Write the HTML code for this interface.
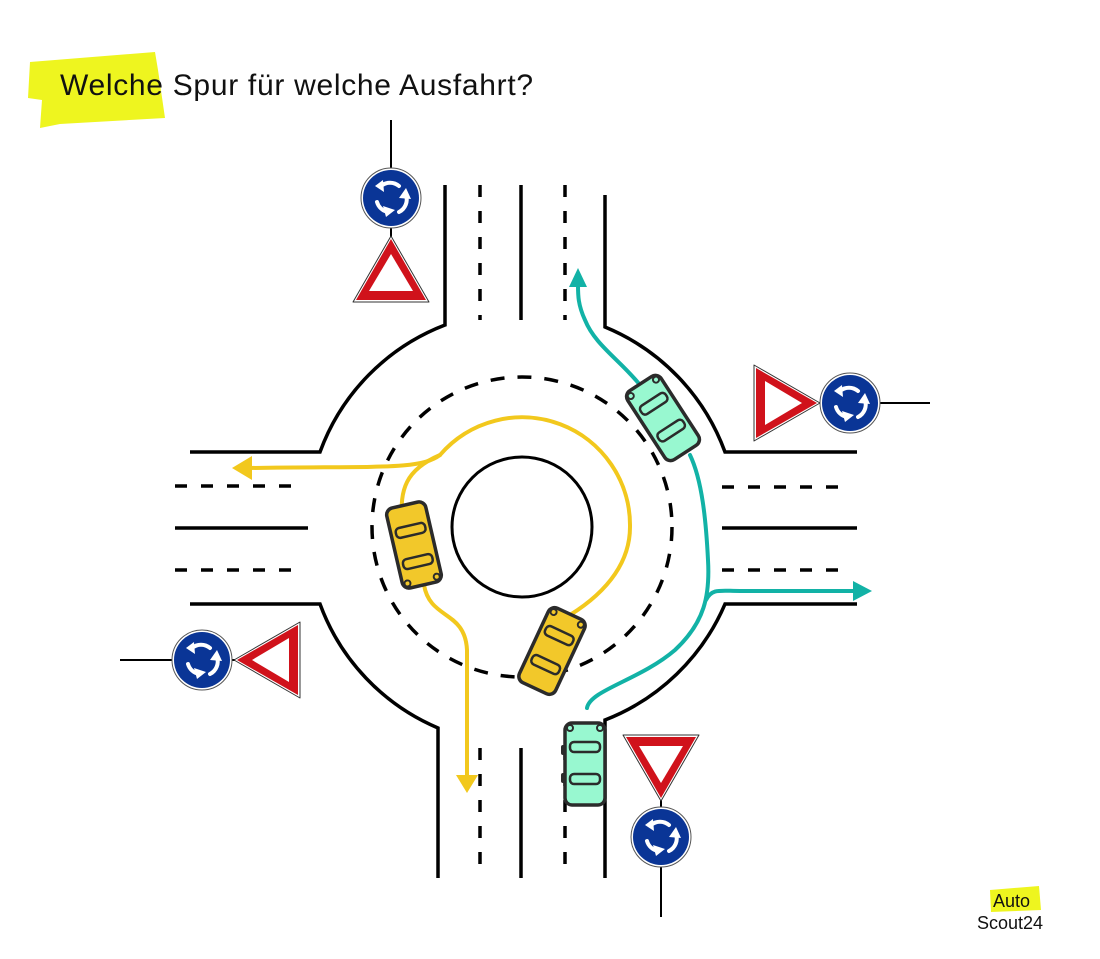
<!DOCTYPE html>
<html><head><meta charset="utf-8"><style>
html,body{margin:0;padding:0;background:#fff;width:1100px;height:959px;overflow:hidden}
svg{display:block}
text{font-family:"Liberation Sans",sans-serif}
</style></head><body>
<svg width="1100" height="959" viewBox="0 0 1100 959" xmlns="http://www.w3.org/2000/svg">
<defs>
<g id="rb">
 <circle r="30" fill="#fff" stroke="#555" stroke-width="1"/>
 <circle r="28" fill="#0a3596"/>
 <g fill="none" stroke="#fff" stroke-width="4" stroke-linecap="round">
  <path d="M8,-12 A14,14 0 0 0 -10,-12"/>
  <path d="M-14,4 A14,14 0 0 0 -3,14"/>
  <path d="M8,14 A14,14 0 0 0 15,-3"/>
 </g>
 <g fill="#fff">
  <path d="M-16,-12 L-8,-18 L-7,-6 Z"/>
  <path d="M-5,19 L4,12 L-8,8 Z"/>
  <path d="M15,-10 L20,1 L8,0 Z"/>
 </g>
</g>
<g id="tri">
 <path d="M0,-36 L38,30 L-38,30 Z" fill="#fff" stroke="#333" stroke-width="1" stroke-linejoin="round"/>
 <path d="M0,-33 L35,28 L-35,28 Z" fill="#d0121b"/>
 <path d="M0,-18 L22,19 L-22,19 Z" fill="#fff"/>
</g>
<g id="car">
 <rect x="-20" y="-41" width="40" height="82" rx="7" stroke="#2b2b2b" stroke-width="3.5"/>
 <rect x="-15" y="-22" width="30" height="10" rx="4" fill="none" stroke="#2b2b2b" stroke-width="2.5"/>
 <rect x="-15" y="10" width="30" height="10" rx="4" fill="none" stroke="#2b2b2b" stroke-width="2.5"/>
 <circle cx="-15" cy="-36" r="3" fill="none" stroke="#2b2b2b" stroke-width="2"/>
 <circle cx="15" cy="-36" r="3" fill="none" stroke="#2b2b2b" stroke-width="2"/>
</g>
</defs>

<!-- title -->
<path d="M30,62 L155,52 L158,70 L165,118 L60,124 L40,128 L42,100 L28,98 Z" fill="#eef51f"/>
<text x="60" y="95" font-size="30" letter-spacing="0.7" fill="#111">Welche Spur für welche Ausfahrt?</text>

<!-- roads -->
<g fill="none" stroke="#000" stroke-width="3.5">
 <path d="M445,185 V325 A215,215 0 0 0 320,452 H190"/>
 <path d="M605,195 V327 A215,215 0 0 1 725,452 H857"/>
 <path d="M857,604 H725 A215,215 0 0 1 605,720 V878"/>
 <path d="M190,604 H320 A215,215 0 0 0 438,728 V878"/>
 <line x1="521" y1="185" x2="521" y2="320"/>
 <line x1="521" y1="748" x2="521" y2="878"/>
 <line x1="175" y1="528" x2="308" y2="528"/>
 <line x1="722" y1="528" x2="857" y2="528"/>
 <circle cx="522" cy="527" r="70" stroke-width="3"/>
</g>
<g fill="none" stroke="#000" stroke-width="3.5" stroke-dasharray="12,14">
 <line x1="480" y1="185" x2="480" y2="320"/>
 <line x1="565" y1="185" x2="565" y2="320"/>
 <line x1="480" y1="748" x2="480" y2="878"/>
 <line x1="565" y1="748" x2="565" y2="878"/>
 <line x1="175" y1="486" x2="300" y2="486"/>
 <line x1="175" y1="570" x2="300" y2="570"/>
 <line x1="722" y1="487" x2="850" y2="487"/>
 <line x1="722" y1="570" x2="850" y2="570"/>
 <circle cx="522" cy="527" r="150" stroke-dasharray="14,13"/>
</g>

<!-- yellow paths -->
<g fill="none" stroke="#f2c81d" stroke-width="4" stroke-linecap="round">
 <path d="M570,615 C610,590 630,560 630,527 A108,108 0 0 0 440,455 C420,470 380,466 250,468"/>
 <path d="M440,455 C405,470 400,490 402,520"/>
 <path d="M424,585 C430,620 465,610 467,650 L467,775"/>
</g>
<path d="M232,468 L252,456 L252,480 Z" fill="#f2c81d"/>
<path d="M467,793 L456,775 L478,775 Z" fill="#f2c81d"/>

<!-- teal paths -->
<g fill="none" stroke="#12b2a6" stroke-width="4" stroke-linecap="round">
 <path d="M587,708 C590,690 640,680 675,650 C705,622 710,595 708,560 C706,520 702,480 690,455"/>
 <path d="M640,385 C620,360 595,345 585,320 C578,305 578,295 578,285"/>
 <path d="M706,600 C712,588 720,591 740,591 L855,591"/>
</g>
<path d="M578,268 L569,287 L587,287 Z" fill="#12b2a6"/>
<path d="M872,591 L853,581 L853,601 Z" fill="#12b2a6"/>

<!-- cars -->
<use href="#car" transform="translate(414,545) rotate(167)" fill="#f2c82a"/>
<use href="#car" transform="translate(552,651) rotate(25)" fill="#f2c82a"/>
<use href="#car" transform="translate(663,418) rotate(-33)" fill="#98f8d0"/>
<use href="#car" transform="translate(585,764)" fill="#98f8d0"/>
<rect x="561" y="745" width="5" height="10" rx="2" fill="#2b2b2b"/>
<rect x="561" y="773" width="5" height="10" rx="2" fill="#2b2b2b"/>

<!-- signs -->
<g stroke="#000" stroke-width="2">
 <line x1="391" y1="120" x2="391" y2="240"/>
 <line x1="800" y1="403" x2="930" y2="403"/>
 <line x1="120" y1="660" x2="250" y2="660"/>
 <line x1="661" y1="780" x2="661" y2="917"/>
</g>
<use href="#rb" transform="translate(391,198)"/>
<use href="#tri" transform="translate(391,272)"/>
<use href="#tri" transform="translate(784,403) rotate(90)"/>
<use href="#rb" transform="translate(850,403)"/>
<use href="#rb" transform="translate(202,660)"/>
<use href="#tri" transform="translate(270,660) rotate(-90)"/>
<use href="#tri" transform="translate(661,765) rotate(180)"/>
<use href="#rb" transform="translate(661,837)"/>

<!-- logo -->
<path d="M990,890 L1039,886 L1041,910 L991,912 Z" fill="#eef51f"/>
<text x="993" y="907" font-size="18" fill="#111">Auto</text>
<text x="977" y="929" font-size="18" fill="#111">Scout24</text>
</svg>
</body></html>
